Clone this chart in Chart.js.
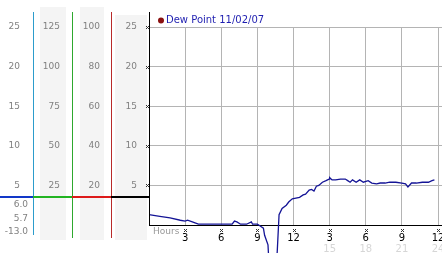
<!DOCTYPE html>
<html>
<head>
<meta charset="utf-8">
<script src="https://cdn.jsdelivr.net/npm/chart.js@4.4.0/dist/chart.umd.min.js"></script>
<style>
html, body { margin: 0; padding: 0; background: #fff; }
</style>
</head>
<body>
<canvas id="dewChart" width="442" height="253"></canvas>
<script>
// Dew point, one day of readings (hours since midnight)
const seriesLabel = 'Dew Point 11/02/07';
const hours = [0, 0.9, 1.75, 2.6, 3.0, 3.2, 3.6, 4.1, 5.1, 6.3, 6.9, 7.1, 7.3, 7.6, 8.1,
    8.5, 8.6, 9.0, 9.2, 9.5, 9.6, 9.88, 10.25, 10.65, 10.8, 11.05, 11.4, 11.6, 11.9,
    12.2, 12.5, 12.8, 13.0, 13.3, 13.5, 13.7, 13.9, 14.1, 14.4, 14.7, 14.95, 15.0, 15.2,
    15.5, 15.9, 16.3, 16.5, 16.7, 16.9, 17.2, 17.5, 17.8, 18.2, 18.5, 18.9, 19.2, 19.6,
    20.0, 20.5, 21.0, 21.3, 21.5, 21.8, 22.2, 22.7, 23.2, 23.5, 23.7];
const dewPoint = [1.3, 1.1, 0.9, 0.6, 0.5, 0.6, 0.4, 0.1, 0.1, 0.1, 0.1, 0.5, 0.4, 0.1, 0.1,
    0.4, 0.1, 0.1, -0.1, -0.4, -1.3, -2.5, -13.0, -3.3, 1.3, 2.1, 2.5, 2.9, 3.3,
    3.4, 3.5, 3.8, 3.9, 4.4, 4.5, 4.3, 4.9, 5.0, 5.4, 5.6, 5.8, 6.0, 5.7,
    5.7, 5.8, 5.8, 5.6, 5.4, 5.7, 5.4, 5.7, 5.4, 5.6, 5.3, 5.2, 5.3, 5.3,
    5.4, 5.4, 5.3, 5.2, 4.8, 5.3, 5.3, 5.4, 5.4, 5.6, 5.7];

// tick labels
const hourTicks = [3, 6, 9, 12, 15, 18, 21, 24];
const clockLabels = ['3', '6', '9', '12', '3', '6', '9', '12'];
const lateHourTicks = [15, 18, 21, 24];
const tempTicks = [5, 10, 15, 20, 25];
const pctTicks = [25, 50, 75, 100, 125];
const scale100Ticks = [20, 40, 60, 80, 100];
const markerLevel = 3.5;

const tickFont = { family: 'DejaVu Sans', size: 9 };

function ticksFrom(list) {
    return function(scale) { scale.ticks = list.map(v => ({ value: v })); };
}
function leftWidth(w) {
    return function(scale) { scale.width = w; scale.paddingTop = 0; scale.paddingBottom = 0; };
}
function bottomHeight(h) {
    return function(scale) { scale.height = h; scale.paddingLeft = 0; scale.paddingRight = 0; };
}
function sideAxis(max, list, weight, width, pad) {
    return {
        type: 'linear', position: 'left', min: 0, max: max, weight: weight,
        afterBuildTicks: ticksFrom(list),
        afterFit: leftWidth(width),
        ticks: { color: '#808080', font: tickFont, padding: pad },
        grid: { display: false, drawTicks: false },
        border: { display: false }
    };
}

function xMark(ctx, x, y) {
    x = Math.round(x) - 1; y = Math.round(y) - 1;
    ctx.fillRect(x, y, 1, 1); ctx.fillRect(x + 2, y, 1, 1);
    ctx.fillRect(x + 1, y + 1, 1, 1);
    ctx.fillRect(x, y + 2, 1, 1); ctx.fillRect(x + 2, y + 2, 1, 1);
}

// fonds, lignes de couleur, legende
const panelPlugin = {
    id: 'panel',
    beforeDraw(chart) {
        const ctx = chart.ctx;
        const s = chart.scales;
        ctx.save();
        ctx.fillStyle = '#fff';
        ctx.fillRect(0, 0, chart.width, chart.height);
        ctx.fillStyle = '#f4f4f4';
        ctx.fillRect(s.yP.left + 7, 7, s.yP.width - 13, 233);
        ctx.fillRect(s.yF.left + 8, 7, s.yF.width - 15, 233);
        ctx.fillRect(s.y.left + 4, 15, s.y.width - 6, 225);
        ctx.restore();
    },
    afterDraw(chart) {
        const ctx = chart.ctx;
        const s = chart.scales;
        const area = chart.chartArea;
        ctx.save();

        const vline = (x, y1, y2, color) => {
            ctx.fillStyle = color;
            ctx.fillRect(Math.round(x), y1, 1, y2 - y1);
        };
        vline(s.yC.right, 12, 235, '#2c9ccc');
        vline(s.yP.right, 12, 238, '#2ea82e');
        vline(s.yF.right, 12, 238, '#b82a2a');
        vline(s.y.right, 12, area.bottom, '#000');

        const my = Math.round(s.y.getPixelForValue(markerLevel)) - 1;
        ctx.fillStyle = '#1238c8'; ctx.fillRect(0, my, s.yC.right, 2);
        ctx.fillStyle = '#22b422'; ctx.fillRect(s.yP.left, my, s.yP.width, 2);
        ctx.fillStyle = '#dd1a1a'; ctx.fillRect(s.yF.left, my, s.yF.width, 2);
        ctx.fillStyle = '#000'; ctx.fillRect(s.y.left, my, s.y.width, 2);

        ctx.fillStyle = '#333';
        tempTicks.forEach(v => xMark(ctx, s.y.right - 2, s.y.getPixelForValue(v)));
        hourTicks.forEach(v => xMark(ctx, s.x.getPixelForValue(v), 230));

        ctx.font = '9px "DejaVu Sans"';
        ctx.textBaseline = 'middle';
        ctx.fillStyle = '#999';
        ctx.textAlign = 'left';
        ctx.fillText('Hours', area.left + 4, 232);

        const maxV = Math.max(...dewPoint);
        const minV = Math.min(...dewPoint);
        const curV = dewPoint[dewPoint.length - 1];
        ctx.fillStyle = '#808080';
        ctx.textAlign = 'right';
        ctx.fillText(maxV.toFixed(1), 28, 205);
        ctx.fillText(curV.toFixed(1), 28, 219);
        ctx.fillText(minV.toFixed(1), 28, 232);

        // legend
        ctx.fillStyle = '#8a1010';
        ctx.beginPath();
        ctx.arc(161, 20.5, 3, 0, Math.PI * 2);
        ctx.fill();
        ctx.font = '10px "DejaVu Sans"';
        ctx.textAlign = 'left';
        ctx.fillStyle = '#1e1eb0';
        ctx.fillText(chart.data.datasets[0].label, 166, 20.5);
        ctx.restore();
    }
};

new Chart(document.getElementById('dewChart').getContext('2d'), {
    type: 'line',
    data: {
        datasets: [{
            label: seriesLabel,
            data: hours.map((h, i) => ({ x: h, y: dewPoint[i] })),
            borderColor: '#141496',
            borderWidth: 1.3,
            pointRadius: 0,
            tension: 0,
            clip: false,
            xAxisID: 'x',
            yAxisID: 'y'
        }]
    },
    options: {
        responsive: false,
        devicePixelRatio: 1,
        animation: false,
        layout: { padding: { top: 27, left: 0, right: 0, bottom: 0 } },
        plugins: { legend: { display: false }, tooltip: { enabled: false } },
        scales: {
            x: {
                type: 'linear', position: 'bottom', min: 0, max: 24.33, weight: 0,
                afterBuildTicks: ticksFrom(hourTicks),
                afterFit: bottomHeight(18),
                ticks: {
                    color: '#000', font: { family: 'DejaVu Sans', size: 10 }, padding: 7,
                    maxRotation: 0, autoSkip: false,
                    callback: (v, i) => clockLabels[i]
                },
                grid: { color: '#b4b4b4', drawTicks: false },
                border: { color: '#000', width: 1 }
            },
            x2: {
                type: 'linear', position: 'bottom', min: 0, max: 24.33, weight: 1,
                afterBuildTicks: ticksFrom(lateHourTicks),
                afterFit: bottomHeight(10),
                ticks: { color: '#d6d6d6', font: { family: 'DejaVu Sans', size: 10 }, padding: 0, maxRotation: 0, autoSkip: false },
                grid: { display: false, drawTicks: false },
                border: { display: false }
            },
            y: {
                type: 'linear', position: 'left', min: 0, max: 25, weight: 0,
                afterBuildTicks: ticksFrom(tempTicks),
                afterFit: leftWidth(38),
                ticks: { color: '#808080', font: tickFont, padding: 12 },
                grid: { color: '#b4b4b4', drawTicks: false },
                border: { display: false }
            },
            yF: sideAxis(100, scale100Ticks, 1, 39, 11),
            yP: sideAxis(125, pctTicks, 2, 39, 12),
            yC: sideAxis(25, tempTicks, 3, 33, 13)
        }
    },
    plugins: [panelPlugin]
});
</script>
</body>
</html>
